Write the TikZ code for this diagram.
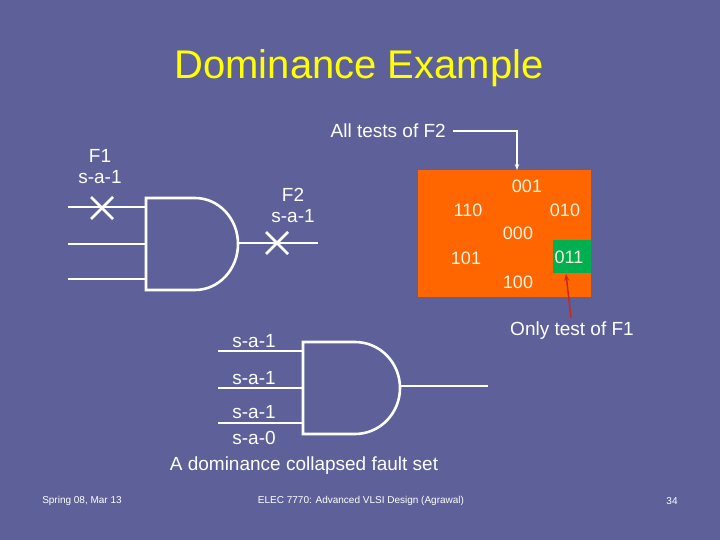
\documentclass[tikz,border=0pt]{standalone}
\usepackage{fontspec}
\setmainfont{Liberation Sans}
\usetikzlibrary{arrows.meta}
\definecolor{bg}{HTML}{5E6199}
\definecolor{org}{HTML}{FF6600}
\definecolor{grn}{HTML}{00B050}
\definecolor{ttl}{HTML}{FFFF00}
\definecolor{txt}{HTML}{F5F5E0}
\tikzset{wire/.style={draw=white,line width=2.6pt},
 lbl/.style={text=white,font=\fontsize{19}{21}\selectfont,inner sep=0pt},
 num/.style={text=txt,font=\fontsize{18}{20}\selectfont,inner sep=0pt},
 foot/.style={text=white,font=\fontsize{10}{12}\selectfont,inner sep=0pt}}
\begin{document}
\begin{tikzpicture}[x=1pt,y=-1pt]
\fill[bg] (0,0) rectangle (720,540);
\useasboundingbox (0,0) rectangle (720,540);
\node[text=ttl,font=\fontsize{40}{44}\selectfont] (title) at (359,68) {Dominance Example};
% gate 1
\draw[wire] (68,207) -- (146,207) (68,244) -- (146,244) (68,279) -- (146,279);
\draw[wire] (195,198) -- (146,198) -- (146,290) -- (195,290) arc[start angle=-90,end angle=90,x radius=43,y radius=-46];
\draw[wire] (238,243) -- (318,243);
\draw[wire] (91,197) -- (113,219) (91,219) -- (113,197);
\draw[wire] (266,232) -- (288,254) (266,254) -- (288,232);
\node[lbl,align=center] (f1) at (100,167) {F1\\s-a-1};
\node[lbl,align=center] (f2) at (293,205) {F2\\s-a-1};
% box
\fill[org] (418,170) rectangle (591,297);
\fill[grn] (553,240) rectangle (591,273);
\node[num] (n001) at (527,186) {001};
\node[num] (n110) at (468,210) {110};
\node[num] (n010) at (565,210) {010};
\node[num] (n000) at (518,233) {000};
\node[num] (n011) at (569,257) {011};
\node[num] (n101) at (466,258) {101};
\node[num] (n100) at (518,282) {100};
\node[lbl,anchor=east] (all) at (446,131) {All tests of F2};
\coordinate (top) at (517,170);
\draw[white,line width=1.2pt,-{Stealth[length=6pt]}] (all.east) ++(7,0) -- (517,131) -- (top);
\node[lbl] (only) at (572,331) {Only test of F1};
\draw[draw={rgb,255:red,200;green,40;blue,30},line width=1.5pt,-{Stealth[length=7pt]}] (571,318) -- (566,274);
% gate 2
\draw[wire] (218,351) -- (303,351) (218,388) -- (303,388) (218,423) -- (303,423);
\draw[wire] (355,342) -- (303,342) -- (303,434) -- (355,434) arc[start angle=-90,end angle=90,x radius=45,y radius=-46];
\draw[wire] (400,386) -- (488,386);
\node[lbl] (a1) at (254,341) {s-a-1};
\node[lbl] (a2) at (254,378) {s-a-1};
\node[lbl] (a3) at (254,412) {s-a-1};
\node[lbl] (a4) at (254,438) {s-a-0};
\node[lbl] (cap) at (304,466) {A dominance collapsed fault set};
\node[foot] (l) at (82,501) {Spring 08, Mar 13};
\node[foot] (c) at (361,501) {ELEC 7770: Advanced VLSI Design (Agrawal)};
\node[foot] (r) at (672,501) {34};
\end{tikzpicture}
\end{document}
